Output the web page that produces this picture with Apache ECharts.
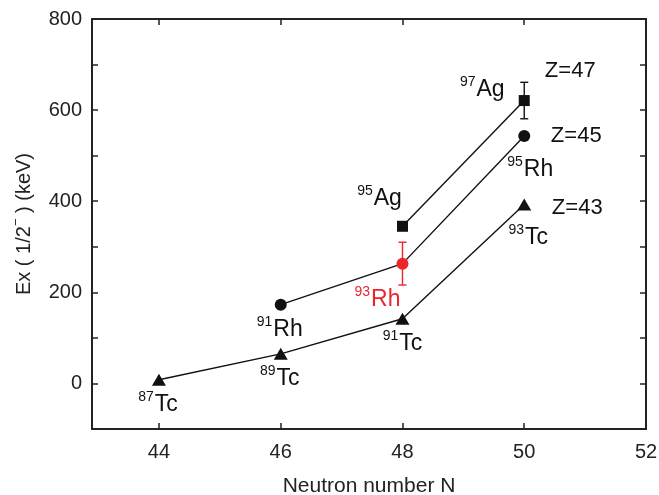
<!DOCTYPE html>
<html>
<head>
<meta charset="utf-8">
<script src="https://cdn.jsdelivr.net/npm/echarts@6/dist/echarts.min.js"></script>
<style>
  html, body { margin: 0; padding: 0; background: #fff; }
  #chart { width: 659px; height: 495px; }
</style>
</head>
<body>
<div id="chart"></div>
<script>
// 数据
var tcN = [44, 46, 48, 50];
var tcE = [8, 65, 142, 393];
var tcMass = ['87', '89', '91', '93'];

var rhN = [46, 48, 50];
var rhE = [173, 263, 543];
var rhMass = ['91', '93', '95'];

var agN = [48, 50];
var agE = [345, 621];
var agMass = ['95', '97'];

// 误差棒 [N, E, err]
var rhErr = [[48, 263, 47]];
var agErr = [[50, 621, 40]];

var xTicks = [44, 46, 48, 50, 52];

// 标签偏移（相对于点的中心）
var tcOffsets = [[-1, 23], [-1, 23], [0, 23], [4, 32]];
var rhOffsets = [[-1, 24], [-25, 35], [6, 32]];
var agOffsets = [[-23, -29], [-42, -12]];

var RED = '#e8262b';
var INK = '#111';
var FONT = 'Liberation Sans, Arial, sans-serif';

var richStyle = function (color) {
    return {
        sup: { fontSize: 14, color: color, fontFamily: FONT, verticalAlign: 'top', lineHeight: 26, padding: [0, 1, 9, 0] },
        el: { fontSize: 23, color: color, fontFamily: FONT, verticalAlign: 'bottom', lineHeight: 26 }
    };
};

function buildData(ns, es, mass, el, offsets, special) {
    return ns.map(function (n, i) {
        var color = (special && special[i]) ? special[i] : INK;
        var item = {
            value: [n, es[i]],
            label: {
                show: true,
                position: 'inside',
                align: 'center',
                verticalAlign: 'middle',
                offset: offsets[i],
                formatter: '{sup|' + mass[i] + '}{el|' + el + '}',
                rich: richStyle(color)
            }
        };
        if (special && special[i]) item.itemStyle = { color: special[i] };
        return item;
    });
}

var lineBase = {
    type: 'line',
    lineStyle: { color: INK, width: 1.4 },
    itemStyle: { color: INK },
    z: 3
};

function errorSeries(data, color) {
    return {
        type: 'custom',
        z: 2,
        data: data,
        renderItem: function (params, api) {
            var x = api.value(0), y = api.value(1), e = api.value(2);
            var top = api.coord([x, y + e]);
            var bot = api.coord([x, y - e]);
            var w = 4;
            var style = { stroke: color, lineWidth: 1.4 };
            return {
                type: 'group',
                children: [
                    { type: 'line', shape: { x1: top[0], y1: top[1], x2: bot[0], y2: bot[1] }, style: style },
                    { type: 'line', shape: { x1: top[0] - w, y1: top[1], x2: top[0] + w, y2: top[1] }, style: style },
                    { type: 'line', shape: { x1: bot[0] - w, y1: bot[1], x2: bot[0] + w, y2: bot[1] }, style: style }
                ]
            };
        }
    };
}

// Z 标签放在每条链的最后一个点
var zLabels = [
    { value: [agN[agN.length - 1], agE[agE.length - 1]], text: 'Z=47', offset: [46, -30] },
    { value: [rhN[rhN.length - 1], rhE[rhE.length - 1]], text: 'Z=45', offset: [52, 0] },
    { value: [tcN[tcN.length - 1], tcE[tcE.length - 1]], text: 'Z=43', offset: [53, 4] }
];

var axisFont = { fontSize: 20, color: '#222', fontFamily: FONT };
var frame = { color: '#222', width: 2 };
var tickStyle = { color: '#222', width: 1.5 };

var myChart = echarts.init(document.getElementById('chart'));

var option = {
    animation: false,
    backgroundColor: '#fff',
    grid: { left: 92, right: 13, top: 19, bottom: 66, outerBoundsMode: 'none', containLabel: false },
    xAxis: [{
        type: 'value',
        min: 42.9,
        max: 52,
        name: 'Neutron number N',
        nameLocation: 'middle',
        nameGap: 47,
        nameTextStyle: { fontSize: 21, color: '#222', fontFamily: FONT },
        axisLine: { onZero: false, lineStyle: frame },
        axisTick: { inside: true, length: 6, customValues: xTicks, lineStyle: tickStyle },
        axisLabel: Object.assign({ customValues: xTicks, margin: 13 }, axisFont),
        splitLine: { show: false }
    }, {
        type: 'value',
        position: 'top',
        min: 42.9,
        max: 52,
        axisLine: { show: true, onZero: false, lineStyle: frame },
        axisTick: { inside: true, length: 6, customValues: xTicks, lineStyle: tickStyle },
        axisLabel: { show: false },
        splitLine: { show: false }
    }],
    yAxis: [{
        type: 'value',
        min: -100,
        max: 800,
        interval: 100,
        name: '{n|Ex ( 1/2}{p|−}{n| ) (keV)}',
        nameLocation: 'middle',
        nameGap: 58,
        nameRotate: 90,
        nameTextStyle: {
            rich: {
                n: { fontSize: 20, color: '#222', fontFamily: FONT, verticalAlign: 'bottom', lineHeight: 24 },
                p: { fontSize: 13, color: '#222', fontFamily: FONT, verticalAlign: 'top', lineHeight: 24 }
            }
        },
        axisLine: { show: true, onZero: false, lineStyle: frame },
        axisTick: { inside: true, length: 6, lineStyle: tickStyle },
        axisLabel: Object.assign({
            margin: 10,
            formatter: function (v) { return v % 200 === 0 ? String(v) : ''; }
        }, axisFont),
        splitLine: { show: false }
    }, {
        type: 'value',
        position: 'right',
        min: -100,
        max: 800,
        interval: 100,
        axisLine: { show: true, onZero: false, lineStyle: frame },
        axisTick: { inside: true, length: 6, lineStyle: tickStyle },
        axisLabel: { show: false },
        splitLine: { show: false }
    }],
    series: [
        errorSeries(agErr, INK),
        errorSeries(rhErr, RED),
        Object.assign({}, lineBase, {
            name: 'Tc',
            symbol: 'triangle',
            symbolSize: [14, 12],
            data: buildData(tcN, tcE, tcMass, 'Tc', tcOffsets)
        }),
        Object.assign({}, lineBase, {
            name: 'Rh',
            symbol: 'circle',
            symbolSize: 12,
            data: buildData(rhN, rhE, rhMass, 'Rh', rhOffsets, [null, RED, null])
        }),
        Object.assign({}, lineBase, {
            name: 'Ag',
            symbol: 'rect',
            symbolSize: 11,
            data: buildData(agN, agE, agMass, 'Ag', agOffsets)
        }),
        {
            type: 'scatter',
            symbolSize: 1,
            itemStyle: { color: 'rgba(0,0,0,0)', opacity: 1 },
            z: 4,
            silent: true,
            data: zLabels.map(function (d) {
                return {
                    value: d.value,
                    label: {
                        show: true,
                        position: 'inside',
                        align: 'center',
                        verticalAlign: 'middle',
                        offset: d.offset,
                        formatter: d.text,
                        fontSize: 22,
                        color: INK,
                        opacity: 1,
                        fontFamily: FONT
                    }
                };
            })
        }
    ]
};

myChart.setOption(option);
</script>
</body>
</html>
